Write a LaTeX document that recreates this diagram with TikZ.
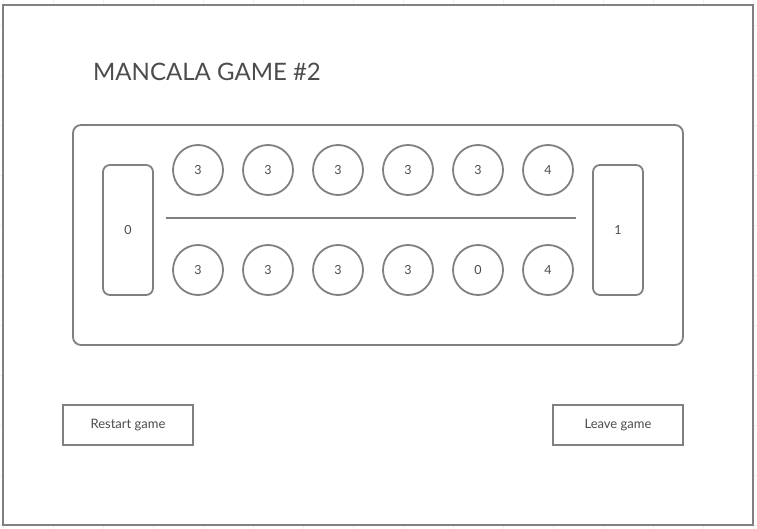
\documentclass[tikz,border=0pt]{standalone}
\usepackage{fontspec}
\setmainfont{Lato}
\begin{document}
\begin{tikzpicture}[x=1pt,y=-1pt,
  stroke/.style={draw=black!50,line width=1.8pt},
  pit/.style={stroke,circle,minimum size=50pt,inner sep=0pt,text=black!70,font=\fontsize{12.5}{14}\selectfont},
  store/.style={stroke,rounded corners=7pt,minimum width=50pt,minimum height=130pt,inner sep=0pt,text=black!70,font=\fontsize{12.5}{14}\selectfont},
  btn/.style={stroke,minimum width=130pt,minimum height=40pt,inner sep=0pt,text=black!70,font=\fontsize{13}{15}\selectfont}]
\useasboundingbox (0,0) rectangle (757,529);
% faint grid
\foreach \x in {3,53,...,753} \draw[black!6,line width=0.8pt] (\x,0) -- (\x,529);
\foreach \y in {25,75,...,525} \draw[black!6,line width=0.8pt] (0,\y) -- (757,\y);
\node[stroke,fill=white,minimum width=750pt,minimum height=520pt,inner sep=0pt] (frame) at (378,265) {};
\node[anchor=base west,inner sep=0pt,text=black!70,font=\fontsize{24}{28}\selectfont] (title) at (93,81) {MANCALA GAME \#2};
\node[stroke,rounded corners=8pt,minimum width=610pt,minimum height=220pt,inner sep=0pt] (board) at (378,235) {};
\node[store] (s0) at (128,230) {0};
\node[store] (s1) at (618,230) {1};
\foreach \i/\x/\a/\b in {1/198/3/3,2/268/3/3,3/338/3/3,4/408/3/3,5/478/3/0,6/548/4/4}{
  \node[pit] (t\i) at (\x,170) {\a};
  \node[pit] (b\i) at (\x,270) {\b};
}
\coordinate (lineL) at (166,218);
\coordinate (lineR) at (576,218);
\draw[draw=black!50,line width=1.8pt] (lineL) -- (lineR);
\node[btn] (restart) at (128,425) {\raisebox{-1pt}{Restart game}};
\node[btn] (leave) at (618,425) {\raisebox{-1pt}{Leave game}};
\end{tikzpicture}
\end{document}
